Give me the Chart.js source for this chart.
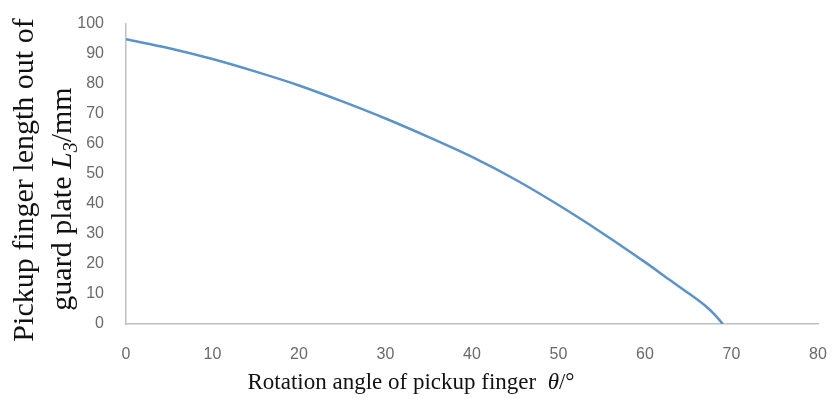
<!DOCTYPE html>
<html>
<head>
    <meta charset="UTF-8">
    <title>Pickup finger length vs rotation angle</title>
    <script src="https://cdn.jsdelivr.net/npm/chart.js"></script>
    <style>
        html, body { margin: 0; padding: 0; background: #ffffff; }
        #wrap { width: 832px; height: 399px; }
    </style>
</head>
<body>
<div id="wrap">
    <canvas id="chart" width="832" height="399"></canvas>
</div>
<script>
    // values
    const angles = [0, 5, 10, 15, 20, 25, 30, 35, 40, 45, 50, 55, 60, 63, 65, 67, 68, 69];
    const lengths = [94.8, 91.8, 88.2, 84.0, 79.4, 74.1, 68.4, 62.2, 55.6, 48.1, 39.6, 30.4, 20.6, 14.4, 10.3, 6.0, 3.3, 0];

    const xTicks = [0, 10, 20, 30, 40, 50, 60, 70, 80];
    const yTicks = [0, 10, 20, 30, 40, 50, 60, 70, 80, 90, 100];

    const serif = '"Liberation Serif", "Times New Roman", serif';

    // draws a run of [text, font, yShift] pieces starting at x
    function drawRun(ctx, parts, x, y) {
        for (const p of parts) {
            ctx.font = p[1];
            ctx.fillText(p[0], x, y + (p[2] || 0));
            x += ctx.measureText(p[0]).width;
        }
    }

    function runWidth(ctx, parts) {
        let w = 0;
        for (const p of parts) {
            ctx.font = p[1];
            w += ctx.measureText(p[0]).width;
        }
        return w;
    }

    const axisTitles = {
        id: 'axisTitles',
        afterDraw(chart) {
            const ctx = chart.ctx;
            ctx.save();
            ctx.fillStyle = '#111111';
            ctx.textBaseline = 'alphabetic';
            ctx.textAlign = 'left';

            // x title
            const xt = [
                ['Rotation angle of pickup finger  ', '23px ' + serif],
                ['\u03b8', 'italic 23px ' + serif],
                ['/\u00b0', '23px ' + serif]
            ];
            const xw = runWidth(ctx, xt);
            drawRun(ctx, xt, 411 - xw / 2, 389);

            // y title, two lines, rotated
            const l1 = [['Pickup finger length out of', '30px ' + serif]];
            const l2 = [
                ['guard plate ', '30px ' + serif],
                ['L', 'italic 30px ' + serif],
                ['3', 'italic 20px ' + serif, 6],
                ['/mm', '30px ' + serif]
            ];
            ctx.rotate(-Math.PI / 2);
            const w1 = runWidth(ctx, l1);
            drawRun(ctx, l1, -180 - w1 / 2, 33);
            const w2 = runWidth(ctx, l2);
            drawRun(ctx, l2, -199 - w2 / 2, 71);
            ctx.restore();
        }
    };

    const points = angles.map((a, i) => ({x: a, y: lengths[i]}));

    new Chart(document.getElementById('chart'), {
        type: 'scatter',
        data: {
            datasets: [{
                data: points,
                showLine: true,
                borderColor: '#5b93cb',
                borderWidth: 2.5,
                pointRadius: 0,
                cubicInterpolationMode: 'monotone'
            }]
        },
        options: {
            responsive: false,
            animation: false,
            layout: {padding: {top: 14, right: 14, bottom: 0, left: 0}},
            plugins: {legend: {display: false}, tooltip: {enabled: false}},
            scales: {
                x: {
                    type: 'linear',
                    min: 0,
                    max: 80,
                    afterBuildTicks: s => { s.ticks = xTicks.map(v => ({value: v})); },
                    afterFit: s => { s.height = 75; s.paddingRight = 0; s.paddingLeft = 0; },
                    grid: {display: false},
                    border: {display: true, color: '#bfbfbf', width: 1.5},
                    ticks: {
                        color: '#6a6a6a',
                        padding: 13,
                        font: {family: '"Liberation Sans", Arial, sans-serif', size: 16}
                    }
                },
                y: {
                    min: 0,
                    max: 100,
                    afterBuildTicks: s => { s.ticks = yTicks.map(v => ({value: v})); },
                    afterFit: s => { s.width = 126; },
                    grid: {display: false},
                    border: {display: true, color: '#bfbfbf', width: 1.5},
                    ticks: {
                        color: '#6a6a6a',
                        padding: 14,
                        font: {family: '"Liberation Sans", Arial, sans-serif', size: 16}
                    }
                }
            }
        },
        plugins: [axisTitles]
    });
</script>
</body>
</html>
